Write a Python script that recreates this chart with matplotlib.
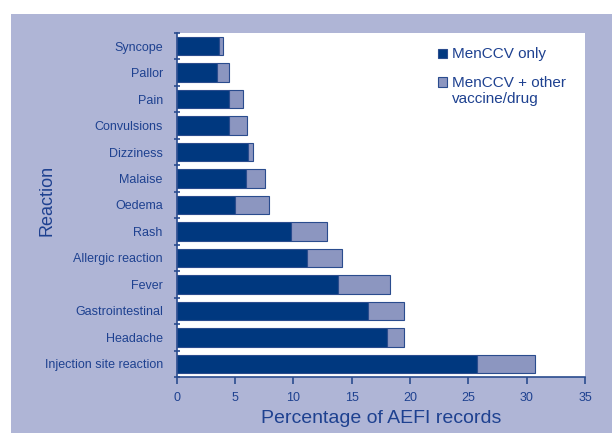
import matplotlib.pyplot as plt
from matplotlib.patches import Rectangle

reactions = ["Syncope", "Pallor", "Pain", "Convulsions", "Dizziness", "Malaise",
             "Oedema", "Rash", "Allergic reaction", "Fever", "Gastrointestinal",
             "Headache", "Injection site reaction"]
menccv_only = [3.6, 3.45, 4.5, 4.5, 6.1, 5.9, 5.0, 9.8, 11.15, 13.8, 16.4, 18.0, 25.7]
menccv_total = [4.0, 4.5, 5.7, 6.0, 6.5, 7.6, 7.9, 12.85, 14.2, 18.25, 19.5, 19.5, 30.75]
menccv_other = [t - o for t, o in zip(menccv_total, menccv_only)]

bg = "#AFB5D6"
dark = "#00387F"
light = "#8C96C0"
edge = "#2A4C8E"
text = "#1E4190"

W, H = 612, 433

plt.rcParams.update({"font.family": ["Liberation Sans", "DejaVu Sans"]})

fig = plt.figure(figsize=(W / 100, H / 100), dpi=100, facecolor="white")
fig.patches.append(Rectangle((11 / W, 0), 1, 1 - 14 / H, transform=fig.transFigure,
                             facecolor=bg, edgecolor="none", zorder=-10))

ax = fig.add_axes([176.7 / W, 56 / H, (585 - 176.7) / W, (377 - 33) / H])
ax.set_facecolor("white")

y = list(range(len(reactions)))
ax.barh(y, menccv_only, height=0.7, color=dark, edgecolor=edge, linewidth=0.8)
ax.barh(y, menccv_other, left=menccv_only, height=0.7, color=light, edgecolor=edge,
        linewidth=0.8)

ax.set_xlim(0, 35)
ax.set_ylim(len(reactions) - 0.5, -0.5)
ax.set_xticks(range(0, 36, 5))
ax.set_yticks(y)
ax.set_yticklabels(reactions)
ax.set_yticks([i - 0.5 for i in range(len(reactions) + 1)], minor=True)
ax.tick_params(axis="y", which="major", length=0, pad=10, labelsize=9, labelcolor=text)
ax.tick_params(axis="y", which="minor", length=5, direction="inout", color=edge, width=1.2)
ax.tick_params(axis="x", length=5, direction="out", color=edge, width=1.2,
               labelsize=9, labelcolor=text, pad=6)

for s in ["top", "right"]:
    ax.spines[s].set_visible(False)
for s in ["left", "bottom"]:
    ax.spines[s].set_color(edge)
    ax.spines[s].set_linewidth(1.2)

ax.set_xlabel("Percentage of AEFI records", fontsize=14, color=text, labelpad=4)
fig.text(47 / W, 1 - 200 / H, "Reaction", rotation=90, fontsize=13, color=text,
         ha="center", va="center")

# legend, square next to the first line of each label
legend_items = [(dark, ["MenCCV only"], 58.3),
                (light, ["MenCCV + other", "vaccine/drug"], 86.7)]
for color, lines, base in legend_items:
    fig.patches.append(Rectangle((438 / W, 1 - base / H), 9 / W, 9.5 / H,
                                 transform=fig.transFigure, facecolor=color,
                                 edgecolor=edge, linewidth=0.8))
    for k, line in enumerate(lines):
        fig.text(452 / W, 1 - (base + 16 * k) / H, line, fontsize=11, color=text,
                 ha="left", va="baseline")

fig.savefig("out.png", dpi=100, facecolor="white")
